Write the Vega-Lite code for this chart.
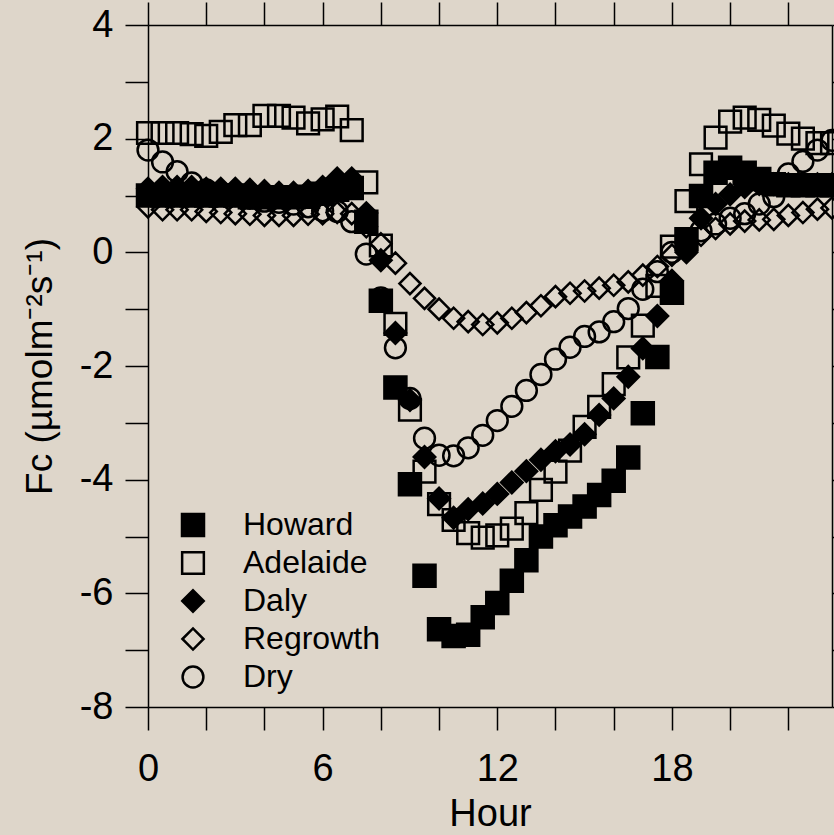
{
  "$schema": "https://vega.github.io/schema/vega-lite/v6.json",
  "autosize": {"type": "none"},
  "padding": {"left": 148, "top": 25, "right": 2, "bottom": 128},
  "width": 684,
  "height": 682,
  "background": "#ded6ca",
  "config": {"view": {"stroke": null}, "font": "Liberation Sans",
    "legend": {"symbolStrokeWidth": 2.5, "symbolStrokeColor": "black"}},
  "data": {"values": [
    {"s":"Dry","h":0,"v":1.8},{"s":"Dry","h":0.5,"v":1.59},{"s":"Dry","h":1,"v":1.42},{"s":"Dry","h":1.5,"v":1.22},{"s":"Dry","h":2,"v":1.1},{"s":"Dry","h":2.5,"v":1.05},{"s":"Dry","h":3,"v":1.0},{"s":"Dry","h":3.5,"v":0.95},{"s":"Dry","h":4,"v":0.9},{"s":"Dry","h":4.5,"v":0.88},{"s":"Dry","h":5,"v":0.85},{"s":"Dry","h":5.5,"v":0.8},{"s":"Dry","h":6,"v":0.73},{"s":"Dry","h":6.5,"v":0.72},{"s":"Dry","h":7,"v":0.54},{"s":"Dry","h":7.5,"v":-0.03},{"s":"Dry","h":8,"v":-0.8},{"s":"Dry","h":8.5,"v":-1.68},{"s":"Dry","h":9,"v":-2.57},{"s":"Dry","h":9.5,"v":-3.27},{"s":"Dry","h":10,"v":-3.57},{"s":"Dry","h":10.5,"v":-3.58},{"s":"Dry","h":11,"v":-3.44},{"s":"Dry","h":11.5,"v":-3.22},{"s":"Dry","h":12,"v":-2.96},{"s":"Dry","h":12.5,"v":-2.71},{"s":"Dry","h":13,"v":-2.43},{"s":"Dry","h":13.5,"v":-2.15},{"s":"Dry","h":14,"v":-1.88},{"s":"Dry","h":14.5,"v":-1.67},{"s":"Dry","h":15,"v":-1.48},{"s":"Dry","h":15.5,"v":-1.4},{"s":"Dry","h":16,"v":-1.22},{"s":"Dry","h":16.5,"v":-0.99},{"s":"Dry","h":17,"v":-0.65},{"s":"Dry","h":17.5,"v":-0.34},{"s":"Dry","h":18,"v":0.0},{"s":"Dry","h":18.5,"v":0.2},{"s":"Dry","h":19,"v":0.38},{"s":"Dry","h":19.5,"v":0.5},{"s":"Dry","h":20,"v":0.6},{"s":"Dry","h":20.5,"v":0.68},{"s":"Dry","h":21,"v":0.85},{"s":"Dry","h":21.5,"v":0.98},{"s":"Dry","h":22,"v":1.38},{"s":"Dry","h":22.5,"v":1.6},{"s":"Dry","h":23,"v":1.8},{"s":"Dry","h":23.5,"v":1.97},
    {"s":"Regrowth","h":0,"v":0.8},{"s":"Regrowth","h":0.5,"v":0.75},{"s":"Regrowth","h":1,"v":0.75},{"s":"Regrowth","h":1.5,"v":0.75},{"s":"Regrowth","h":2,"v":0.72},{"s":"Regrowth","h":2.5,"v":0.7},{"s":"Regrowth","h":3,"v":0.68},{"s":"Regrowth","h":3.5,"v":0.67},{"s":"Regrowth","h":4,"v":0.65},{"s":"Regrowth","h":4.5,"v":0.65},{"s":"Regrowth","h":5,"v":0.65},{"s":"Regrowth","h":5.5,"v":0.67},{"s":"Regrowth","h":6,"v":0.68},{"s":"Regrowth","h":6.5,"v":0.7},{"s":"Regrowth","h":7,"v":0.68},{"s":"Regrowth","h":7.5,"v":0.45},{"s":"Regrowth","h":8,"v":0.15},{"s":"Regrowth","h":8.5,"v":-0.19},{"s":"Regrowth","h":9,"v":-0.55},{"s":"Regrowth","h":9.5,"v":-0.81},{"s":"Regrowth","h":10,"v":-1.0},{"s":"Regrowth","h":10.5,"v":-1.16},{"s":"Regrowth","h":11,"v":-1.22},{"s":"Regrowth","h":11.5,"v":-1.27},{"s":"Regrowth","h":12,"v":-1.24},{"s":"Regrowth","h":12.5,"v":-1.16},{"s":"Regrowth","h":13,"v":-1.06},{"s":"Regrowth","h":13.5,"v":-0.94},{"s":"Regrowth","h":14,"v":-0.78},{"s":"Regrowth","h":14.5,"v":-0.72},{"s":"Regrowth","h":15,"v":-0.68},{"s":"Regrowth","h":15.5,"v":-0.63},{"s":"Regrowth","h":16,"v":-0.58},{"s":"Regrowth","h":16.5,"v":-0.52},{"s":"Regrowth","h":17,"v":-0.4},{"s":"Regrowth","h":17.5,"v":-0.25},{"s":"Regrowth","h":18,"v":-0.05},{"s":"Regrowth","h":18.5,"v":0.15},{"s":"Regrowth","h":19,"v":0.3},{"s":"Regrowth","h":19.5,"v":0.42},{"s":"Regrowth","h":20,"v":0.5},{"s":"Regrowth","h":20.5,"v":0.55},{"s":"Regrowth","h":21,"v":0.57},{"s":"Regrowth","h":21.5,"v":0.58},{"s":"Regrowth","h":22,"v":0.65},{"s":"Regrowth","h":22.5,"v":0.7},{"s":"Regrowth","h":23,"v":0.76},{"s":"Regrowth","h":23.5,"v":0.78},
    {"s":"Adelaide","h":0,"v":2.1},{"s":"Adelaide","h":0.5,"v":2.1},{"s":"Adelaide","h":1,"v":2.1},{"s":"Adelaide","h":1.5,"v":2.08},{"s":"Adelaide","h":2,"v":2.05},{"s":"Adelaide","h":2.5,"v":2.12},{"s":"Adelaide","h":3,"v":2.24},{"s":"Adelaide","h":3.5,"v":2.24},{"s":"Adelaide","h":4,"v":2.4},{"s":"Adelaide","h":4.5,"v":2.4},{"s":"Adelaide","h":5,"v":2.37},{"s":"Adelaide","h":5.5,"v":2.27},{"s":"Adelaide","h":6,"v":2.34},{"s":"Adelaide","h":6.5,"v":2.39},{"s":"Adelaide","h":7,"v":2.15},{"s":"Adelaide","h":7.5,"v":1.23},{"s":"Adelaide","h":8,"v":0.12},{"s":"Adelaide","h":8.5,"v":-1.26},{"s":"Adelaide","h":9,"v":-2.77},{"s":"Adelaide","h":9.5,"v":-3.86},{"s":"Adelaide","h":10,"v":-4.43},{"s":"Adelaide","h":10.5,"v":-4.71},{"s":"Adelaide","h":11,"v":-4.94},{"s":"Adelaide","h":11.5,"v":-5.02},{"s":"Adelaide","h":12,"v":-4.98},{"s":"Adelaide","h":12.5,"v":-4.86},{"s":"Adelaide","h":13,"v":-4.59},{"s":"Adelaide","h":13.5,"v":-4.18},{"s":"Adelaide","h":14,"v":-3.86},{"s":"Adelaide","h":14.5,"v":-3.49},{"s":"Adelaide","h":15,"v":-3.07},{"s":"Adelaide","h":15.5,"v":-2.72},{"s":"Adelaide","h":16,"v":-2.32},{"s":"Adelaide","h":16.5,"v":-1.85},{"s":"Adelaide","h":17,"v":-1.29},{"s":"Adelaide","h":17.5,"v":-0.59},{"s":"Adelaide","h":18,"v":0.1},{"s":"Adelaide","h":18.5,"v":0.9},{"s":"Adelaide","h":19,"v":1.55},{"s":"Adelaide","h":19.5,"v":2.02},{"s":"Adelaide","h":20,"v":2.3},{"s":"Adelaide","h":20.5,"v":2.37},{"s":"Adelaide","h":21,"v":2.33},{"s":"Adelaide","h":21.5,"v":2.23},{"s":"Adelaide","h":22,"v":2.09},{"s":"Adelaide","h":22.5,"v":2.0},{"s":"Adelaide","h":23,"v":1.92},{"s":"Adelaide","h":23.5,"v":1.92},
    {"s":"Daly","h":0,"v":1.12},{"s":"Daly","h":0.5,"v":1.15},{"s":"Daly","h":1,"v":1.15},{"s":"Daly","h":1.5,"v":1.15},{"s":"Daly","h":2,"v":1.12},{"s":"Daly","h":2.5,"v":1.12},{"s":"Daly","h":3,"v":1.12},{"s":"Daly","h":3.5,"v":1.1},{"s":"Daly","h":4,"v":1.08},{"s":"Daly","h":4.5,"v":1.05},{"s":"Daly","h":5,"v":1.05},{"s":"Daly","h":5.5,"v":1.08},{"s":"Daly","h":6,"v":1.15},{"s":"Daly","h":6.5,"v":1.3},{"s":"Daly","h":7,"v":1.3},{"s":"Daly","h":7.5,"v":0.69},{"s":"Daly","h":8,"v":-0.14},{"s":"Daly","h":8.5,"v":-1.42},{"s":"Daly","h":9,"v":-2.6},{"s":"Daly","h":9.5,"v":-3.6},{"s":"Daly","h":10,"v":-4.33},{"s":"Daly","h":10.5,"v":-4.67},{"s":"Daly","h":11,"v":-4.52},{"s":"Daly","h":11.5,"v":-4.42},{"s":"Daly","h":12,"v":-4.25},{"s":"Daly","h":12.5,"v":-4.05},{"s":"Daly","h":13,"v":-3.85},{"s":"Daly","h":13.5,"v":-3.65},{"s":"Daly","h":14,"v":-3.5},{"s":"Daly","h":14.5,"v":-3.38},{"s":"Daly","h":15,"v":-3.2},{"s":"Daly","h":15.5,"v":-2.86},{"s":"Daly","h":16,"v":-2.57},{"s":"Daly","h":16.5,"v":-2.19},{"s":"Daly","h":17,"v":-1.69},{"s":"Daly","h":17.5,"v":-1.12},{"s":"Daly","h":18,"v":-0.5},{"s":"Daly","h":18.5,"v":0.0},{"s":"Daly","h":19,"v":0.6},{"s":"Daly","h":19.5,"v":0.85},{"s":"Daly","h":20,"v":1.02},{"s":"Daly","h":20.5,"v":1.15},{"s":"Daly","h":21,"v":1.2},{"s":"Daly","h":21.5,"v":1.2},{"s":"Daly","h":22,"v":1.2},{"s":"Daly","h":22.5,"v":1.2},{"s":"Daly","h":23,"v":1.2},{"s":"Daly","h":23.5,"v":1.2},
    {"s":"Howard","h":0,"v":1.0},{"s":"Howard","h":0.5,"v":1.0},{"s":"Howard","h":1,"v":1.0},{"s":"Howard","h":1.5,"v":1.0},{"s":"Howard","h":2,"v":1.0},{"s":"Howard","h":2.5,"v":1.0},{"s":"Howard","h":3,"v":1.0},{"s":"Howard","h":3.5,"v":0.97},{"s":"Howard","h":4,"v":0.97},{"s":"Howard","h":4.5,"v":0.97},{"s":"Howard","h":5,"v":0.97},{"s":"Howard","h":5.5,"v":0.98},{"s":"Howard","h":6,"v":1.03},{"s":"Howard","h":6.5,"v":1.1},{"s":"Howard","h":7,"v":1.13},{"s":"Howard","h":7.5,"v":0.54},{"s":"Howard","h":8,"v":-0.85},{"s":"Howard","h":8.5,"v":-2.38},{"s":"Howard","h":9,"v":-4.08},{"s":"Howard","h":9.5,"v":-5.69},{"s":"Howard","h":10,"v":-6.63},{"s":"Howard","h":10.5,"v":-6.75},{"s":"Howard","h":11,"v":-6.73},{"s":"Howard","h":11.5,"v":-6.42},{"s":"Howard","h":12,"v":-6.17},{"s":"Howard","h":12.5,"v":-5.78},{"s":"Howard","h":13,"v":-5.42},{"s":"Howard","h":13.5,"v":-5.0},{"s":"Howard","h":14,"v":-4.8},{"s":"Howard","h":14.5,"v":-4.65},{"s":"Howard","h":15,"v":-4.47},{"s":"Howard","h":15.5,"v":-4.27},{"s":"Howard","h":16,"v":-4.02},{"s":"Howard","h":16.5,"v":-3.61},{"s":"Howard","h":17,"v":-2.83},{"s":"Howard","h":17.5,"v":-1.84},{"s":"Howard","h":18,"v":-0.71},{"s":"Howard","h":18.5,"v":0.23},{"s":"Howard","h":19,"v":0.99},{"s":"Howard","h":19.5,"v":1.4},{"s":"Howard","h":20,"v":1.49},{"s":"Howard","h":20.5,"v":1.4},{"s":"Howard","h":21,"v":1.29},{"s":"Howard","h":21.5,"v":1.2},{"s":"Howard","h":22,"v":1.18},{"s":"Howard","h":22.5,"v":1.18},{"s":"Howard","h":23,"v":1.18},{"s":"Howard","h":23.5,"v":1.18}
  ]},
  "resolve": {"axis": {"x": "independent", "y": "independent"}},
  "layer": [
    {
      "mark": {"type": "point", "opacity": 1, "strokeWidth": 2.5},
      "encoding": {
        "x": {"field": "h", "type": "quantitative",
          "scale": {"domain": [0, 23.5], "nice": false, "zero": false},
          "axis": {"orient": "bottom", "values": [0,2,4,6,8,10,12,14,16,18,20,22], "grid": false,
            "tickSize": 23, "tickColor": "black", "tickWidth": 1.5, "domainColor": "black", "domainWidth": 1.5,
            "labelExpr": "datum.value % 6 === 0 ? '' + datum.value : ''", "labelFlush": false, "labelOverlap": false,
            "labelFontSize": 38, "labelColor": "black", "labelPadding": 20,
            "title": "Hour", "titleFontSize": 38, "titleFontWeight": "normal", "titleColor": "black", "titlePadding": 7,
            "encode": {"ticks": {"update": {"y2": {"signal": "datum.value % 6 === 0 ? 23 : 12"}}}}}},
        "y": {"field": "v", "type": "quantitative",
          "scale": {"domain": [-8, 4], "nice": false, "zero": false},
          "axis": {"orient": "left", "values": [-8,-7,-6,-5,-4,-3,-2,-1,0,1,2,3,4], "grid": false,
            "tickSize": 23, "tickColor": "black", "tickWidth": 1.5, "domainColor": "black", "domainWidth": 1.5,
            "labelExpr": "datum.value % 2 === 0 ? '' + datum.value : ''", "labelFlush": false, "labelOverlap": false,
            "labelFontSize": 38, "labelColor": "black", "labelPadding": 12,
            "title": "Fᴄ (µmolm⁻²s⁻¹)", "titleFontSize": 37, "titleFontWeight": "normal", "titleColor": "black", "titlePadding": 20,
            "encode": {"ticks": {"update": {"x2": {"signal": "datum.value % 2 === 0 ? -23 : -11"}}}}}},
        "shape": {"field": "s", "type": "nominal",
          "scale": {"domain": ["Howard", "Adelaide", "Daly", "Regrowth", "Dry"], "range": ["square", "square", "diamond", "diamond", "circle"]},
          "legend": {"orient": "none", "legendX": 29, "legendY": 484, "title": null, "labelFontSize": 32, "labelColor": "black", "labelOffset": 34, "rowPadding": 6, "padding": 0}},
        "fill": {"field": "s", "type": "nominal",
          "scale": {"domain": ["Howard", "Adelaide", "Daly", "Regrowth", "Dry"], "range": ["black", "transparent", "black", "transparent", "transparent"]},
          "legend": {"orient": "none", "legendX": 29, "legendY": 484, "title": null, "labelFontSize": 32, "labelColor": "black", "labelOffset": 34, "rowPadding": 6, "padding": 0}},
        "stroke": {"field": "s", "type": "nominal",
          "scale": {"domain": ["Howard", "Adelaide", "Daly", "Regrowth", "Dry"], "range": ["black", "black", "black", "black", "black"]},
          "legend": {"orient": "none", "legendX": 29, "legendY": 484, "title": null, "labelFontSize": 32, "labelColor": "black", "labelOffset": 34, "rowPadding": 6, "padding": 0}},
        "size": {"field": "s", "type": "nominal",
          "scale": {"domain": ["Howard", "Adelaide", "Daly", "Regrowth", "Dry"], "range": [484, 433, 380, 350, 433]},
          "legend": {"orient": "none", "legendX": 29, "legendY": 484, "title": null, "labelFontSize": 32, "labelColor": "black", "labelOffset": 34, "rowPadding": 6, "padding": 0}}
      }
    },
    {
      "mark": {"type": "point", "opacity": 0},
      "encoding": {
        "x": {"field": "h", "type": "quantitative",
          "scale": {"domain": [0, 23.5], "nice": false, "zero": false},
          "axis": {"orient": "top", "values": [0,2,4,6,8,10,12,14,16,18,20,22], "grid": false, "labels": false, "title": null,
            "tickSize": 23, "tickColor": "black", "tickWidth": 1.5, "domainColor": "black", "domainWidth": 1.5,
            "encode": {"ticks": {"update": {"y2": {"signal": "datum.value % 6 === 0 ? 23 : 12"}}}}}},
        "y": {"field": "v", "type": "quantitative",
          "scale": {"domain": [-8, 4], "nice": false, "zero": false},
          "axis": {"orient": "right", "values": [-8,-7,-6,-5,-4,-3,-2,-1,0,1,2,3,4], "grid": false, "labels": false, "title": null,
            "tickSize": 23, "tickColor": "black", "tickWidth": 1.5, "domainColor": "black", "domainWidth": 1.5,
            "encode": {"ticks": {"update": {"x2": {"signal": "datum.value % 2 === 0 ? -23 : -11"}}}}}}
      }
    }
  ]
}
